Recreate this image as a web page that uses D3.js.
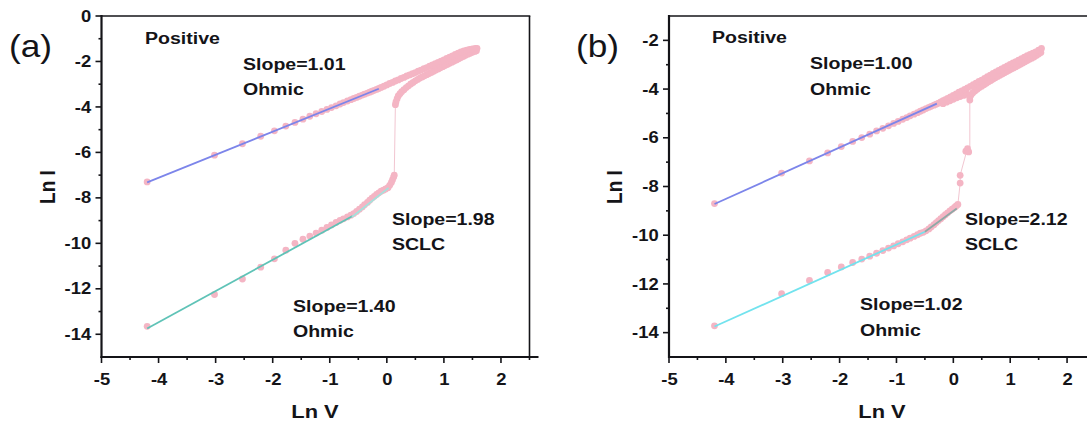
<!DOCTYPE html>
<meta charset="utf-8">
<script src="https://d3js.org/d3.v7.min.js"></script>
<style>
  body { margin: 0; background: #fff; overflow: hidden; }
  text { font-family: "Liberation Sans", Arial, sans-serif; }
</style>
<div id="chart"></div>
<script>
//  axis ticks
const xTicks = [-5, -4, -3, -2, -1, 0, 1, 2];
const xMinor = [-4.5, -3.5, -2.5, -1.5, -0.5, 0.5, 1.5, 2.5];
const yTicksA = [0, -2, -4, -6, -8, -10, -12, -14];
const yMinorA = [-1, -3, -5, -7, -9, -11, -13];
const yTicksB = [-2, -4, -6, -8, -10, -12, -14];
const yMinorB = [-3, -5, -7, -9, -11, -13];

//  panel (a): [ln V, ln I]
const aHigh = [[-4.20,-7.30],[-3.02,-6.12],[-2.53,-5.62],[-2.21,-5.29],[-1.97,-5.05],[-1.77,-4.84],[-1.61,-4.68],
  [-1.47,-4.54],[-1.35,-4.41],[-1.24,-4.30],[-1.14,-4.20],[-1.05,-4.11],[-0.97,-4.03],[-0.89,-3.95],[-0.82,-3.87],
  [-0.76,-3.81],[-0.69,-3.74],[-0.63,-3.68],[-0.58,-3.63],[-0.53,-3.58],[-0.48,-3.53],[-0.43,-3.48],[-0.39,-3.44],
  [-0.34,-3.39],[-0.30,-3.35],[-0.26,-3.31],[-0.22,-3.27],[-0.18,-3.23],[-0.14,-3.19],[-0.10,-3.14],[-0.05,-3.09],
  [0.00,-3.03],[0.05,-2.97],[0.10,-2.92],[0.15,-2.86],[0.20,-2.81],[0.25,-2.75],[0.30,-2.70],[0.35,-2.64],[0.40,-2.59],
  [0.45,-2.54],[0.50,-2.49],[0.55,-2.43],[0.60,-2.38],[0.65,-2.32],[0.70,-2.27],[0.75,-2.21],[0.80,-2.15],[0.85,-2.10],
  [0.90,-2.04],[0.95,-1.99],[1.00,-1.93],[1.05,-1.87],[1.10,-1.81],[1.15,-1.75],[1.20,-1.69],[1.25,-1.63],[1.30,-1.58],
  [1.35,-1.53],[1.40,-1.50],[1.45,-1.47],[1.50,-1.45],[1.55,-1.43],[1.58,-1.42]];
const aReturn = [[0.15,-3.90],[0.16,-3.78],[0.18,-3.64],[0.20,-3.52],[0.23,-3.42],[0.26,-3.33],[0.30,-3.24],[0.34,-3.15],
  [0.38,-3.07],[0.42,-2.99],[0.46,-2.92],[0.50,-2.85],[0.54,-2.79],[0.58,-2.73],[0.62,-2.68],[0.66,-2.63],[0.70,-2.58],
  [0.74,-2.53],[0.78,-2.48],[0.82,-2.43],[0.86,-2.38],[0.90,-2.33],[0.94,-2.28],[0.98,-2.23],[1.02,-2.18],[1.06,-2.13],
  [1.10,-2.08],[1.14,-2.03],[1.18,-1.98],[1.22,-1.93],[1.26,-1.88],[1.30,-1.83],[1.34,-1.78],[1.38,-1.73],[1.42,-1.68],
  [1.46,-1.64],[1.50,-1.60],[1.54,-1.56],[1.57,-1.53]];
const aLow = [[-4.20,-13.65],[-3.02,-12.25],[-2.53,-11.57],[-2.21,-11.05],[-1.97,-10.68],[-1.77,-10.30],[-1.61,-10.00],
  [-1.47,-9.82],[-1.35,-9.68],[-1.24,-9.55],[-1.14,-9.42],[-1.05,-9.30],[-0.97,-9.19],[-0.89,-9.08],[-0.82,-8.99],
  [-0.76,-8.92],[-0.69,-8.84],[-0.63,-8.76],[-0.58,-8.69],[-0.53,-8.60],[-0.48,-8.50],[-0.43,-8.40],[-0.39,-8.30],
  [-0.34,-8.20],[-0.30,-8.10],[-0.26,-8.01],[-0.22,-7.93],[-0.18,-7.85],[-0.14,-7.78],[-0.10,-7.71],[-0.06,-7.66],
  [-0.02,-7.61],[0.02,-7.55],[0.05,-7.45],[0.08,-7.32],[0.10,-7.20],[0.12,-7.08],[0.13,-7.00]];
const aJump = [[0.13,-7.00],[0.15,-3.90]];
const aFitHigh = [[-4.20,-7.32],[-0.14,-3.20]];
const aFitOhmic = [[-4.20,-13.75],[-0.60,-8.80]];
const aFitSCLC = [[-0.61,-8.84],[0.03,-7.56]];

//  panel (b): [ln V, ln I]
const bHigh = [[-4.20,-8.70],[-3.02,-7.45],[-2.53,-6.95],[-2.21,-6.62],[-1.97,-6.36],[-1.77,-6.15],[-1.61,-5.99],
  [-1.47,-5.85],[-1.35,-5.72],[-1.24,-5.61],[-1.14,-5.51],[-1.05,-5.41],[-0.97,-5.33],[-0.89,-5.24],[-0.82,-5.17],
  [-0.76,-5.10],[-0.69,-5.03],[-0.63,-4.97],[-0.58,-4.91],[-0.53,-4.86],[-0.48,-4.80],[-0.43,-4.75],[-0.39,-4.71],
  [-0.34,-4.66],[-0.30,-4.62],[-0.26,-4.58],[-0.22,-4.53],[-0.18,-4.48],[-0.14,-4.43],[-0.10,-4.38],[-0.05,-4.32],
  [0.00,-4.26],[0.05,-4.20],[0.10,-4.13],[0.15,-4.07],[0.20,-4.01],[0.25,-3.95],[0.30,-3.89],[0.35,-3.82],[0.40,-3.76],
  [0.45,-3.69],[0.50,-3.63],[0.55,-3.56],[0.60,-3.49],[0.65,-3.43],[0.70,-3.36],[0.75,-3.30],[0.80,-3.23],[0.85,-3.17],
  [0.90,-3.11],[0.95,-3.05],[1.00,-2.99],[1.05,-2.93],[1.10,-2.87],[1.15,-2.81],[1.20,-2.75],[1.25,-2.69],[1.30,-2.63],
  [1.35,-2.58],[1.40,-2.53],[1.45,-2.47],[1.50,-2.40],[1.55,-2.33]];
const bReturn = [[-0.18,-4.60],[-0.12,-4.54],[-0.06,-4.48],[0.00,-4.42],[0.06,-4.36],[0.12,-4.31],[0.18,-4.26],[0.24,-4.21],
  [0.29,-4.45],[0.29,-4.34],[0.31,-4.24],[0.34,-4.16],[0.38,-4.08],[0.42,-4.01],[0.46,-3.94],[0.50,-3.88],[0.54,-3.82],
  [0.58,-3.76],[0.62,-3.70],[0.66,-3.65],[0.70,-3.59],[0.74,-3.54],[0.78,-3.48],[0.82,-3.43],[0.86,-3.38],[0.90,-3.33],
  [0.94,-3.28],[0.98,-3.23],[1.02,-3.18],[1.06,-3.13],[1.10,-3.08],[1.14,-3.03],[1.18,-2.98],[1.22,-2.93],[1.26,-2.88],
  [1.30,-2.83],[1.34,-2.78],[1.38,-2.73],[1.42,-2.68],[1.46,-2.62],[1.50,-2.56],[1.54,-2.50]];
const bLow = [[-4.20,-13.72],[-3.02,-12.40],[-2.53,-11.86],[-2.21,-11.53],[-1.97,-11.30],[-1.77,-11.12],[-1.61,-10.98],
  [-1.47,-10.86],[-1.35,-10.74],[-1.24,-10.63],[-1.14,-10.53],[-1.05,-10.44],[-0.97,-10.35],[-0.89,-10.27],[-0.82,-10.19],
  [-0.76,-10.12],[-0.69,-10.05],[-0.63,-9.98],[-0.58,-9.92],[-0.53,-9.88],[-0.48,-9.82],[-0.43,-9.74],[-0.39,-9.66],
  [-0.34,-9.57],[-0.30,-9.48],[-0.26,-9.40],[-0.22,-9.32],[-0.18,-9.24],[-0.14,-9.16],[-0.10,-9.08],[-0.06,-9.00],
  [-0.02,-8.93],[0.02,-8.86],[0.05,-8.80],[0.08,-8.74]];
const bSet = [[0.12,-7.86],[0.12,-7.54],[0.22,-6.55],[0.25,-6.45],[0.27,-6.58]];
const bJump = [[0.08,-8.74],[0.12,-7.86],[0.12,-7.54],[0.24,-6.50],[0.29,-6.40],[0.29,-4.45]];
const bFitHigh = [[-4.20,-8.72],[-0.29,-4.60]];
const bFitOhmic = [[-4.20,-13.75],[-0.50,-9.86]];
const bFitSCLC = [[-0.50,-9.86],[0.06,-8.90]];

//  annotation texts
const textsA = ["Positive", "Slope=1.01", "Ohmic", "Slope=1.98", "SCLC", "Slope=1.40", "Ohmic"];
const textsB = ["Positive", "Slope=1.00", "Ohmic", "Slope=2.12", "SCLC", "Slope=1.02", "Ohmic"];

const W = 1088, H = 424;
const svg = d3.select("#chart")
  .append("svg")
    .attr("width", W)
    .attr("height", H);

const pink = "#f4b5c4";
const ink = "#141418";
const stretch = 1.15;   //  the figure is slightly wider than it is tall

//  straight strokes as paths, kept inside the picture
const seg = d3.line();
function stroke(g, x1, y1, x2, y2, w) {
  if (Math.min(x1, x2) > W - 1) return;
  g.append("path")
    .attr("d", seg([[Math.min(x1, W - 1), y1], [Math.min(x2, W - 1), y2]]))
    .attr("fill", "none")
    .attr("stroke", ink)
    .attr("stroke-width", w);
}

function drawPanel(p) {
  const x = d3.scaleLinear().domain([-5, 2.5]).range([p.left, p.right]);
  const y = d3.scaleLinear().domain(p.yDomain).range([357, 16]);
  const g = svg.append("g");
  const line = d3.line().x(d => x(d[0])).y(d => y(d[1]));
  const top = y(p.yDomain[1]), bottom = y(p.yDomain[0]);

  //  faint jump line between the states
  g.append("path").datum(p.jump)
    .attr("d", line)
    .attr("fill", "none")
    .attr("stroke", "#f2c6d1")
    .attr("stroke-width", 1);

  //  measured points
  p.series.forEach(s => {
    g.append("g").selectAll("circle")
      .data(s)
      .join("circle")
        .attr("cx", d => x(d[0]))
        .attr("cy", d => y(d[1]))
        .attr("r", 3.4)
        .attr("fill", pink);
  });

  //  fitted lines
  p.fits.forEach(f => {
    g.append("path").datum(f.pts)
      .attr("d", line)
      .attr("fill", "none")
      .attr("stroke", f.color)
      .attr("stroke-width", 1.8);
  });

  //  tick labels from d3 axes
  const fmt = d => String(d);
  g.append("g").attr("transform", `translate(0,${bottom})`)
    .call(d3.axisBottom(x).tickValues(xTicks).tickSize(0).tickSizeOuter(0).tickPadding(17).tickFormat(fmt));
  g.append("g").attr("transform", `translate(${p.left},0)`)
    .call(d3.axisLeft(y).tickValues(p.yTicks).tickSize(0).tickSizeOuter(0).tickPadding(9).tickFormat(fmt));
  g.selectAll(".domain, .tick line").remove();
  g.selectAll(".tick text")
    .attr("fill", ink)
    .style("font-size", "16px")
    .style("font-weight", "bold")
    .attr("transform", `scale(${stretch},1)`);

  //  tick marks, axis lines and frame
  xTicks.forEach(v => stroke(g, x(v), bottom, x(v), bottom + 6, 1.6));
  xMinor.forEach(v => stroke(g, x(v), bottom, x(v), bottom + 3, 1.6));
  p.yTicks.forEach(v => stroke(g, p.left - 6, y(v), p.left, y(v), 1.6));
  p.yMinor.forEach(v => stroke(g, p.left - 3, y(v), p.left, y(v), 1.6));
  stroke(g, x(-5) - 1, bottom, x(2.5) + 9, bottom, 2.2);
  stroke(g, x(-5), top - 1, x(-5), bottom + 1, 2.2);
  stroke(g, x(-5), top, x(2.5) + 0.8, top, 1.6);
  stroke(g, x(2.5), top, x(2.5), bottom, 1.6);

  //  axis titles
  g.append("text")
    .attr("transform", `translate(${p.xTitle[0]},${p.xTitle[1]}) scale(${stretch},1)`)
    .attr("text-anchor", "middle")
    .style("font-size", "19px").style("font-weight", "bold").attr("fill", ink)
    .text("Ln V");
  g.append("text")
    .attr("transform", `translate(${p.yTitle[0]},${p.yTitle[1]}) scale(${stretch},1) rotate(-90)`)
    .attr("text-anchor", "middle")
    .style("font-size", "19px").style("font-weight", "bold").attr("fill", ink)
    .text("Ln I");

  //  panel letter
  g.append("text")
    .attr("transform", `translate(${p.letterPos[0]},${p.letterPos[1]}) scale(1.1,1)`)
    .style("font-size", "32px").attr("fill", ink)
    .text(p.letter);

  //  annotations
  p.texts.forEach((t, i) => {
    g.append("text")
      .attr("transform", `translate(${p.textPos[i][0]},${p.textPos[i][1]}) scale(${stretch},1)`)
      .style("font-size", "17px").style("font-weight", "bold").attr("fill", ink)
      .text(t);
  });
}

drawPanel({
  left: 101.5, right: 529.5, yDomain: [-15, 0], yTicks: yTicksA, yMinor: yMinorA,
  series: [aLow, aReturn, aHigh],
  jump: aJump,
  fits: [
    {pts: aFitHigh, color: "#7c85ea"},
    {pts: aFitOhmic, color: "#5fc3b7"},
    {pts: aFitSCLC, color: "#a4e2dc"}
  ],
  xTitle: [315, 418], yTitle: [55, 187],
  letter: "(a)", letterPos: [9, 57],
  texts: textsA,
  textPos: [[145, 44], [243, 70], [243, 95], [392, 225], [392, 250], [293, 312], [293, 337]]
});

drawPanel({
  left: 669, right: 1095.5, yDomain: [-15, -1], yTicks: yTicksB, yMinor: yMinorB,
  series: [bLow, bSet, bReturn, bHigh],
  jump: bJump,
  fits: [
    {pts: bFitHigh, color: "#7c85ea"},
    {pts: bFitOhmic, color: "#72e3ee"},
    {pts: bFitSCLC, color: "#8ea9a6"}
  ],
  xTitle: [882, 418], yTitle: [622, 187],
  letter: "(b)", letterPos: [576, 57],
  texts: textsB,
  textPos: [[712, 43], [810, 69], [810, 95], [965, 225], [965, 250], [860, 310], [860, 336]]
});
</script>
